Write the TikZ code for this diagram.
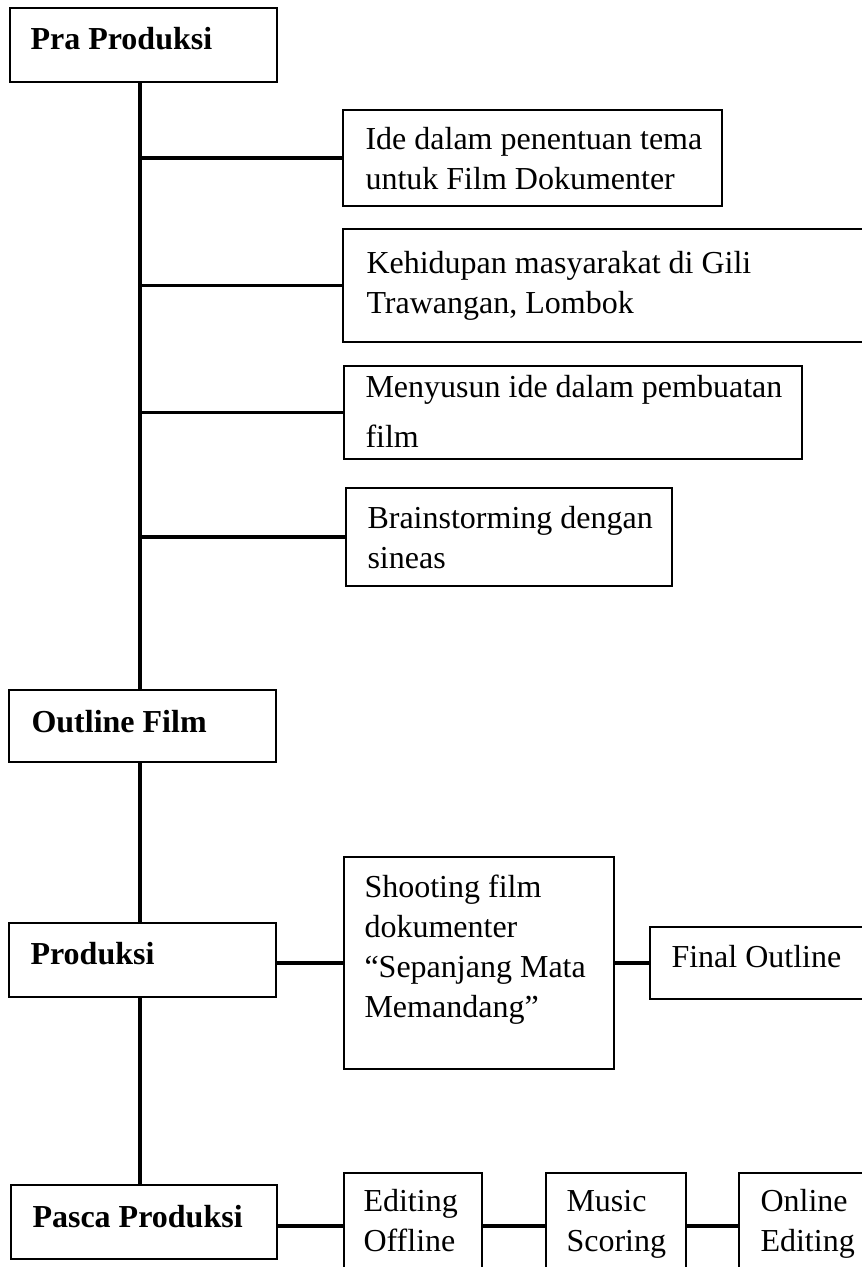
\documentclass[tikz,border=0pt]{standalone}
\usepackage{fontspec}
\setmainfont{Liberation Serif}
\usetikzlibrary{fit}

\begin{document}
\begin{tikzpicture}[x=0.375pt, y=-0.375pt,
  box/.style={draw, line width=0.5pt, inner sep=0pt},
  txt/.style={anchor=base west, align=left, inner sep=0pt, font=\fontsize{12}{14.7}\selectfont},
  head/.style={txt, font=\fontsize{12}{14.7}\selectfont\bfseries},
  link/.style={line width=1.3pt}]
\clip (0,0) rectangle (862,1267);
% stages
\node[box, fit={(10,8) (277,82)}] (pra) {};
\node[box, fit={(9,690) (276,762)}] (outline) {};
\node[box, fit={(9,923) (276,997)}] (prod) {};
\node[box, fit={(11,1185) (277,1259)}] (pasca) {};
\node[head] (praT) at (30,49) {Pra Produksi};
\node[head] (outlineT) at (31,732) {Outline Film};
\node[head] (prodT) at (30,964) {Produksi};
\node[head] (pascaT) at (32,1227) {Pasca Produksi};
% pra produksi steps (text placed by its last baseline)
\node[box, fit={(343,110) (722,206)}] (ide) {};
\node[box, fit={(343,229) (890,342)}] (hidup) {};
\node[box, fit={(344,366) (802,459)}] (susun) {};
\node[box, fit={(346,488) (672,586)}] (brain) {};
\node[txt] (ideT) at (365,189) {Ide dalam penentuan tema\\untuk Film Dokumenter};
\node[txt] (hidupT) at (366,313) {Kehidupan masyarakat di Gili\\Trawangan, Lombok};
\node[txt, font=\fontsize{12}{18.75}\selectfont] (susunT) at (365,447) {Menyusun ide dalam pembuatan\\film};
\node[txt] (brainT) at (367,568) {Brainstorming dengan\\sineas};
% produksi
\node[box, fit={(344,857) (614,1069)}] (shoot) {};
\node[box, fit={(650,927) (890,999)}] (final) {};
\node[txt, font=\fontsize{12}{14.9}\selectfont] (shootT) at (364,1017) {Shooting film\\dokumenter\\``Sepanjang Mata\\Memandang''};
\node[txt] (finalT) at (671,967) {Final Outline};
% pasca produksi
\node[box, fit={(344,1173) (482,1279)}] (edoff) {};
\node[box, fit={(546,1173) (686,1279)}] (music) {};
\node[box, fit={(739,1173) (890,1279)}] (online) {};
\node[txt] (edoffT) at (363,1251) {Editing\\Offline};
\node[txt] (musicT) at (566,1251) {Music\\Scoring};
\node[txt] (onlineT) at (760,1251) {Online\\Editing};
% connectors
\coordinate (spine) at (140,0);
\draw[link] (spine |- pra.south) -- (spine |- outline.north);
\draw[link] (spine |- outline.south) -- (spine |- prod.north);
\draw[link] (spine |- prod.south) -- (spine |- pasca.north);
\foreach \n in {ide,hidup,susun,brain} \draw[link] (spine |- \n.west) -- (\n.west);
\draw[link] (prod.east |- shoot.west) -- (shoot.west);
\draw[link] (shoot.east) -- (final.west);
\draw[link] (pasca.east |- edoff.west) -- (edoff.west);
\draw[link] (edoff.east) -- (music.west);
\draw[link] (music.east) -- (online.west);
\end{tikzpicture}
\end{document}
